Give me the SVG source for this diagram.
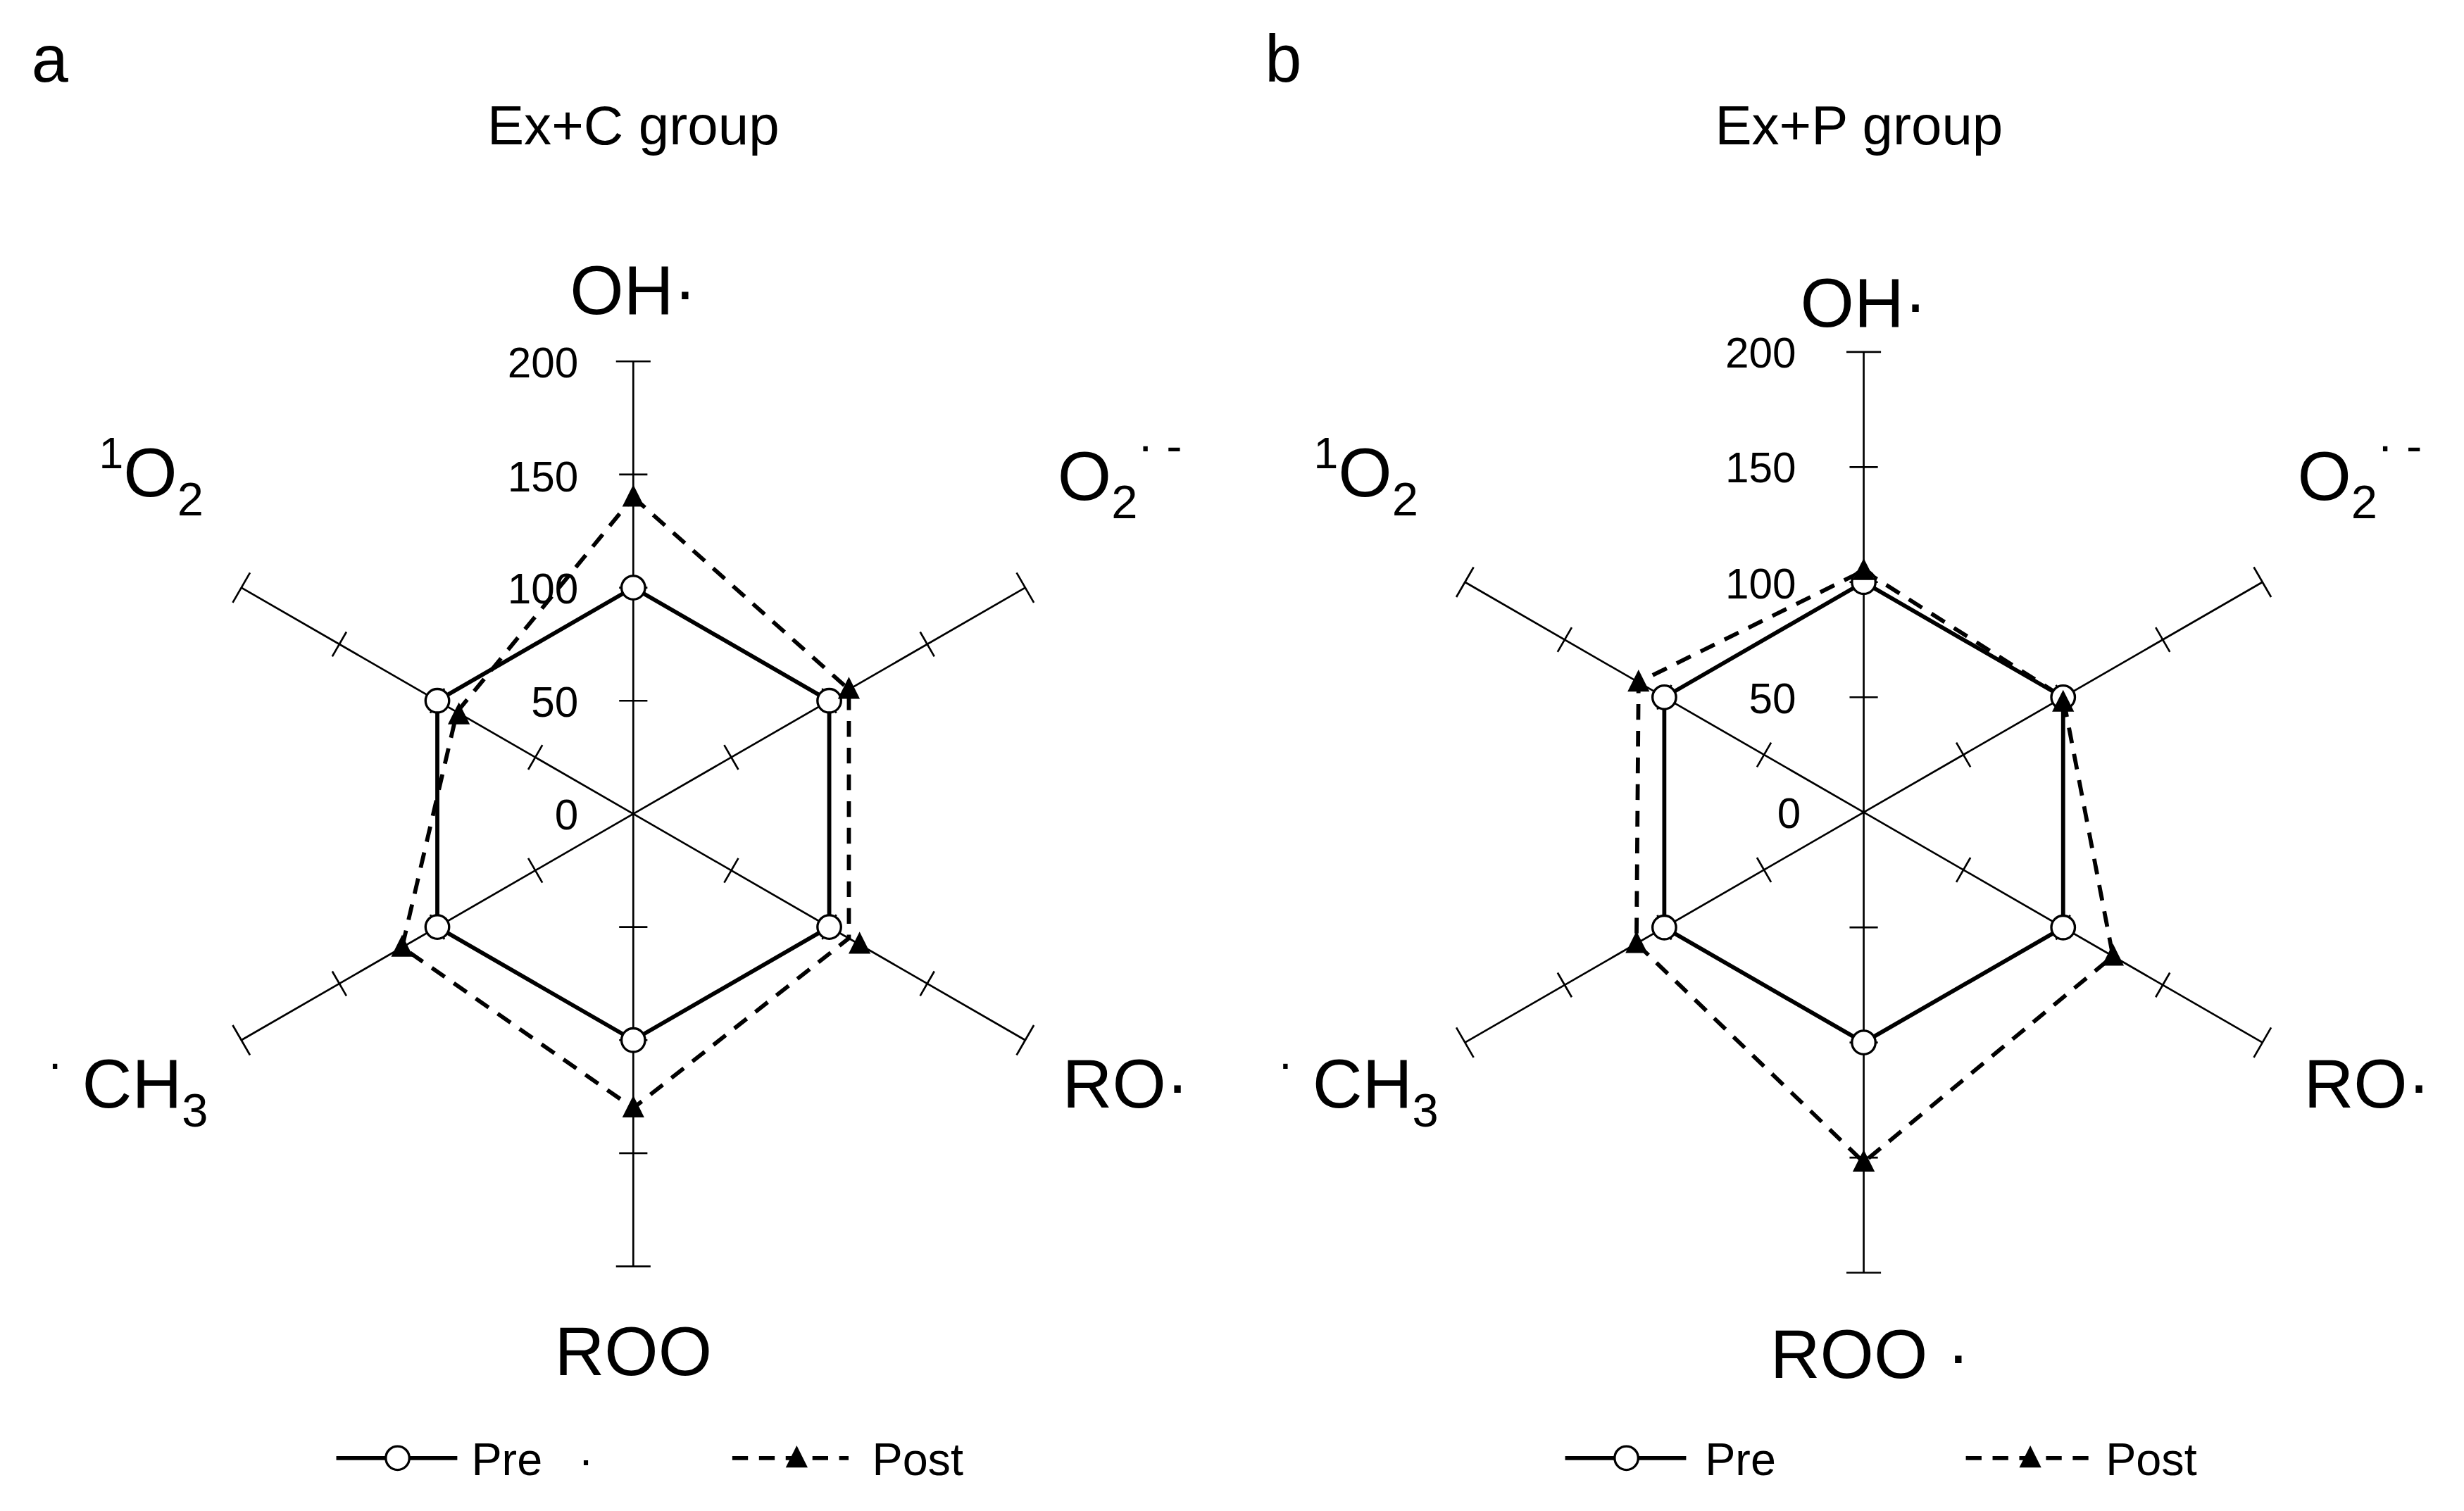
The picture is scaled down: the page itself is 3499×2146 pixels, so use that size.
<svg xmlns="http://www.w3.org/2000/svg" width="3499" height="2146" viewBox="0 0 3499 2146">
<style>
text{font-family:"Liberation Sans",Arial,sans-serif;fill:#000}
.ax{stroke:#000;stroke-width:1.2;fill:none}
.pre{stroke:#000;stroke-width:2.6;fill:none}
.post{stroke:#000;stroke-width:2.6;fill:none;stroke-dasharray:10 7}
.c{fill:#fff;stroke:#000;stroke-width:1.5}
.lab{font-size:44px}
.num{font-size:27px;text-anchor:end}
.tit{font-size:35px;text-anchor:middle}
.leg{font-size:29px}
</style>
<defs>
<g id="spokeA"><line class="ax" x1="0" y1="0" x2="0" y2="-288"/><path class="ax" d="M-9,-72H9M-9,-144H9M-9,-216H9M-11,-288H11"/></g>
<g id="spokeB"><line class="ax" x1="0" y1="0" x2="0" y2="-293"/><path class="ax" d="M-9,-73.25H9M-9,-146.5H9M-9,-219.75H9M-11,-293H11"/></g>
<circle id="mc" class="c" r="7.5"/>
<path id="mt" d="M0,-8L7,6H-7Z" fill="#000"/>
</defs>
<rect width="3499" height="2146" fill="#fff"/>
<g transform="scale(2.2315)">
<g id="panelA">
<text x="20" y="52" font-size="42">a</text>
<text class="tit" x="403" y="92">Ex+C group</text>
<g id="axesA" transform="translate(403,518)">
<use href="#spokeA"/><use href="#spokeA" transform="rotate(60)"/><use href="#spokeA" transform="rotate(120)"/><use href="#spokeA" transform="rotate(180)"/><use href="#spokeA" transform="rotate(240)"/><use href="#spokeA" transform="rotate(300)"/>
</g>
<text class="num" x="368" y="240">200</text><text class="num" x="368" y="313">150</text><text class="num" x="368" y="384">100</text><text class="num" x="368" y="456">50</text><text class="num" x="368" y="528">0</text>
<g id="seriesA">
<polygon class="pre" points="403,374 527.7,446 527.7,590 403,662 278.3,590 278.3,446"/>
<polygon class="post" points="403,316.4 540.2,438.8 540.2,597.2 403,705.2 255.9,602.9 290.8,453.2"/>
<use href="#mc" x="403" y="374"/><use href="#mc" x="527.7" y="446"/><use href="#mc" x="527.7" y="590"/><use href="#mc" x="403" y="662"/><use href="#mc" x="278.3" y="590"/><use href="#mc" x="278.3" y="446"/>
<use href="#mt" x="403" y="316.4"/><use href="#mt" x="540.2" y="438.8"/><use href="#mt" x="547" y="601"/><use href="#mt" x="403" y="705.2"/><use href="#mt" x="255.9" y="602.9"/><use href="#mt" x="292" y="455"/>
</g>
<text class="lab" x="403" y="200" text-anchor="middle">OH·</text>
<text class="lab" x="63" y="316"><tspan font-size="28" dy="-18">1</tspan><tspan dy="18">O</tspan><tspan font-size="30" dy="12">2</tspan></text>
<text class="lab" x="673" y="318">O<tspan font-size="30" dy="12">2</tspan><tspan font-size="30" dy="-36">· -</tspan></text>
<text class="lab" x="676" y="705">RO·</text>
<text class="lab" x="30" y="705"><tspan font-size="30" dy="-18">·</tspan><tspan dy="18"> CH</tspan><tspan font-size="30" dy="12">3</tspan></text>
<text class="lab" x="403" y="875" text-anchor="middle">ROO</text>
<g id="legendA">
<line class="pre" x1="214" y1="928" x2="291" y2="928"/><use href="#mc" x="253" y="928"/>
<text class="leg" x="300" y="939">Pre</text><text class="leg" x="368" y="939">·</text>
<line class="post" x1="466" y1="928" x2="540" y2="928" stroke-dasharray="16 10"/><use href="#mt" x="507" y="928"/>
<text class="leg" x="555" y="939">Post</text>
</g>
</g>
<g id="panelB">
<text x="805" y="52" font-size="42">b</text>
<text class="tit" x="1183" y="92">Ex+P group</text>
<g id="axesB" transform="translate(1186,517)">
<use href="#spokeB"/><use href="#spokeB" transform="rotate(60)"/><use href="#spokeB" transform="rotate(120)"/><use href="#spokeB" transform="rotate(180)"/><use href="#spokeB" transform="rotate(240)"/><use href="#spokeB" transform="rotate(300)"/>
</g>
<text class="num" x="1143" y="234">200</text><text class="num" x="1143" y="307">150</text><text class="num" x="1143" y="381">100</text><text class="num" x="1143" y="454">50</text><text class="num" x="1146" y="527">0</text>
<g id="seriesB">
<polygon class="pre" points="1186,370.5 1312.9,443.8 1312.9,590.3 1186,663.5 1059.1,590.3 1059.1,443.8"/>
<polygon class="post" points="1186,363.2 1312.9,443.8 1344.6,608.6 1186,739.7 1041.4,600.5 1042.7,434.2"/>
<use href="#mc" x="1186" y="370.5"/><use href="#mc" x="1312.9" y="443.8"/><use href="#mc" x="1312.9" y="590.3"/><use href="#mc" x="1186" y="663.5"/><use href="#mc" x="1059.1" y="590.3"/><use href="#mc" x="1059.1" y="443.8"/>
<use href="#mt" x="1186" y="363.2"/><use href="#mt" x="1312.9" y="447"/><use href="#mt" x="1344.6" y="608.6"/><use href="#mt" x="1186" y="739.7"/><use href="#mt" x="1041.4" y="600.5"/><use href="#mt" x="1042.7" y="434.2"/>
</g>
<text class="lab" x="1186" y="208" text-anchor="middle">OH·</text>
<text class="lab" x="836" y="316"><tspan font-size="28" dy="-18">1</tspan><tspan dy="18">O</tspan><tspan font-size="30" dy="12">2</tspan></text>
<text class="lab" x="1462" y="318">O<tspan font-size="30" dy="12">2</tspan><tspan font-size="30" dy="-36">· -</tspan></text>
<text class="lab" x="1466" y="705">RO·</text>
<text class="lab" x="813" y="705"><tspan font-size="30" dy="-18">·</tspan><tspan dy="18"> CH</tspan><tspan font-size="30" dy="12">3</tspan></text>
<text class="lab" x="1190" y="877" text-anchor="middle">ROO ·</text>
<g id="legendB">
<line class="pre" x1="996" y1="928" x2="1073" y2="928"/><use href="#mc" x="1035" y="928"/>
<text class="leg" x="1085" y="939">Pre</text>
<line class="post" x1="1251" y1="928" x2="1330" y2="928" stroke-dasharray="16 10"/><use href="#mt" x="1292" y="928"/>
<text class="leg" x="1340" y="939">Post</text>
</g>
</g>
</g>
</svg>
